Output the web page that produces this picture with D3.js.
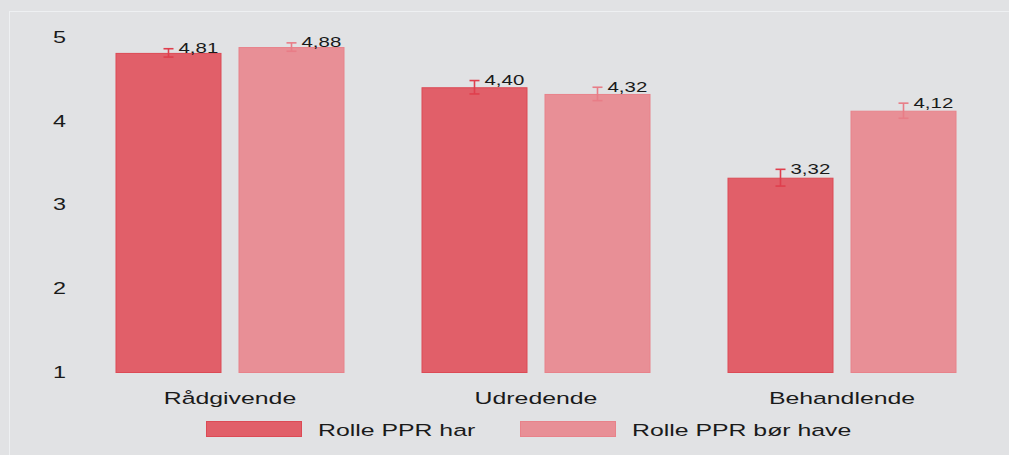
<!DOCTYPE html>
<html>
<head>
<meta charset="utf-8">
<script src="https://cdn.jsdelivr.net/npm/d3@7"></script>
<style>
  html, body { margin: 0; padding: 0; background: #e1e2e4; }
  svg { display: block; font-family: "Liberation Sans", Arial, sans-serif; }
</style>
</head>
<body>
<svg id="chart" width="1009" height="455"></svg>
<script>
// data
var categories = ["Rådgivende", "Udredende", "Behandlende"];
var seriesNames = ["Rolle PPR har", "Rolle PPR bør have"];
var harValues = [4.81, 4.40, 3.32];
var borValues = [4.88, 4.32, 4.12];
var harErr = [0.05, 0.08, 0.10];
var borErr = [0.05, 0.08, 0.09];
var yTicks = [1, 2, 3, 4, 5];

var fills = ["#e15f69", "#e88f96"];
var strokes = ["#dc4a55", "#e8828a"];
var errColors = ["#df3f4d", "#e87d87"];

// the source picture is stretched sideways, so text gets the same stretch
var SX = 1.46;

var svg = d3.select("#chart");
svg.append("rect").attr("x", 0).attr("y", 0).attr("width", 1009).attr("height", 455)
    .attr("fill", "#e1e2e4");
svg.append("rect").attr("x", 9.5).attr("y", 11.5).attr("width", 1020).attr("height", 460)
    .attr("fill", "none").attr("stroke", "#eef0f2").attr("stroke-width", 1);

var x0 = d3.scaleBand().domain(categories).range([77, 995]);
var x1 = d3.scaleBand().domain([0, 1]).range([0, x0.bandwidth()])
    .paddingInner(17 / 123).paddingOuter(0.313);
var y = d3.scaleLinear().domain([1, 5]).range([372, 37]);

var fmt = function (v) { return d3.format(".2f")(v).replace(".", ","); };

function stretched(sel, x, yy) {
    return sel.attr("transform", "translate(" + x + "," + yy + ") scale(" + SX + ",1)");
}

// y axis labels
var yAxis = svg.append("g");
yTicks.forEach(function (t) {
    stretched(yAxis.append("text"), 59.5, y(t))
        .attr("text-anchor", "middle").attr("dy", "0.36em")
        .attr("font-size", 16).attr("fill", "#1a1a1a").text(t);
});

var rows = categories.map(function (c, i) {
    return [
        {cat: c, s: 0, v: harValues[i], e: harErr[i]},
        {cat: c, s: 1, v: borValues[i], e: borErr[i]}
    ];
});

var groups = svg.selectAll("g.grp").data(rows).enter().append("g")
    .attr("class", "grp")
    .attr("transform", function (d, i) { return "translate(" + x0(categories[i]) + ",0)"; });

var bars = groups.selectAll("g.bar").data(function (d) { return d; }).enter().append("g")
    .attr("class", "bar");

bars.append("rect")
    .attr("x", function (d) { return x1(d.s) + 0.5; })
    .attr("y", function (d) { return y(d.v) + 0.5; })
    .attr("width", x1.bandwidth() - 1)
    .attr("height", function (d) { return y(1) - y(d.v); })
    .attr("fill", function (d) { return fills[d.s]; })
    .attr("stroke", function (d) { return strokes[d.s]; })
    .attr("stroke-width", 1);

// error bars
bars.each(function (d) {
    var g = d3.select(this);
    var cx = x1(d.s) + x1.bandwidth() / 2;
    var top = y(d.v + d.e), bot = y(d.v - d.e);
    var col = errColors[d.s];
    g.append("line").attr("x1", cx).attr("x2", cx).attr("y1", top).attr("y2", bot)
        .attr("stroke", col).attr("stroke-width", 1.6);
    [top, bot].forEach(function (yy) {
        g.append("line").attr("x1", cx - 5).attr("x2", cx + 5).attr("y1", yy).attr("y2", yy)
            .attr("stroke", col).attr("stroke-width", 1.6);
    });
    stretched(g.append("text"), cx + 10, top + 4.5)
        .attr("font-size", 14).attr("fill", "#1a1a1a").text(fmt(d.v));
});

// category labels
categories.forEach(function (c) {
    stretched(svg.append("text"), x0(c) + x0.bandwidth() / 2, 404)
        .attr("text-anchor", "middle").attr("font-size", 17).attr("fill", "#1a1a1a").text(c);
});

// legend
var legendX = [206, 520];
seriesNames.forEach(function (name, i) {
    svg.append("rect").attr("x", legendX[i] + 0.5).attr("y", 421.5).attr("width", 95).attr("height", 15)
        .attr("fill", fills[i]).attr("stroke", strokes[i]);
    stretched(svg.append("text"), legendX[i] + 112, 435.5)
        .attr("font-size", 17).attr("fill", "#1a1a1a").text(name);
});
</script>
</body>
</html>
